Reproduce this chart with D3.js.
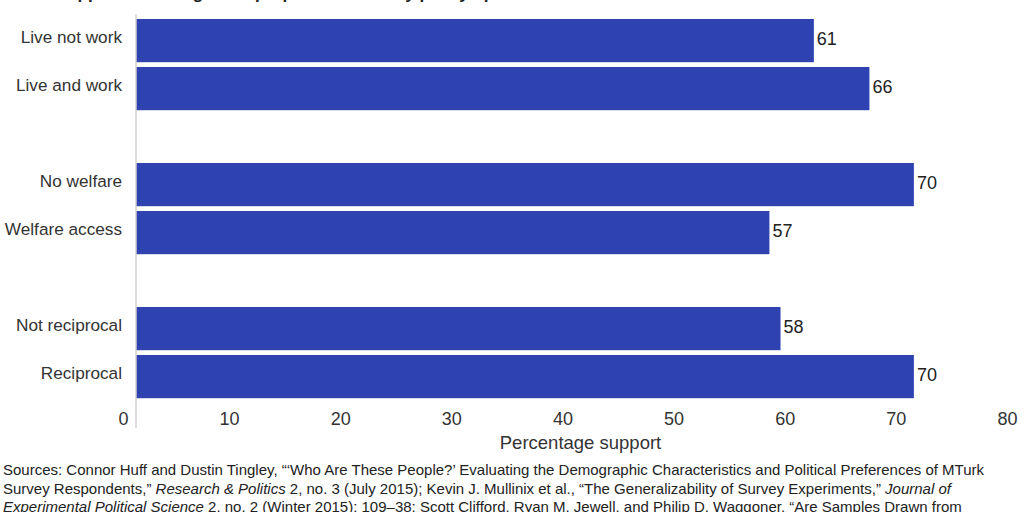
<!DOCTYPE html>
<html>
<head>
<meta charset="utf-8">
<script src="https://cdn.jsdelivr.net/npm/d3@7"></script>
<style>
  html, body { margin: 0; padding: 0; background: #fff; }
  svg { display: block; }
</style>
</head>
<body>
<svg id="chart" width="1024" height="512"></svg>
<script>
// ---- data ----
const categories = ["Live not work", "Live and work", "No welfare", "Welfare access", "Not reciprocal", "Reciprocal"];
const values = [61, 66, 70, 57, 58, 70];
const rowOrder = ["Live not work", "Live and work", "gap1", "No welfare", "Welfare access", "gap2", "Not reciprocal", "Reciprocal"];
const xTicks = [0, 10, 20, 30, 40, 50, 60, 70, 80];
const xTitle = "Percentage support";
const title = "Public support for immigration proposals varies by policy options";
const sourceLines = [
  [{t: "Sources: Connor Huff and Dustin Tingley, \u201c\u2018Who Are These People?\u2019 Evaluating the Demographic Characteristics and Political Preferences of MTurk"}],
  [{t: "Survey Respondents,\u201d "}, {t: "Research & Politics", i: true}, {t: " 2, no. 3 (July 2015); Kevin J. Mullinix et al., \u201cThe Generalizability of Survey Experiments,\u201d "}, {t: "Journal of", i: true}],
  [{t: "Experimental Political Science", i: true}, {t: " 2, no. 2 (Winter 2015): 109\u201338; Scott Clifford, Ryan M. Jewell, and Philip D. Waggoner, \u201cAre Samples Drawn from"}]
];

const data = categories.map((c, i) => ({cat: c, v: values[i]}));

// ---- layout ----
const svg = d3.select("#chart");
const font = "'Liberation Sans', Arial, sans-serif";

const x = d3.scaleLinear().domain([0, 80]).range([136, 1025]);
const y = d3.scaleBand().domain(rowOrder).range([16.6, 400.6]).paddingInner(0.1).paddingOuter(0.05);

// title (mostly cut off at top)
svg.append("text")
  .attr("x", 2).attr("y", -1.5)
  .attr("font-family", font).attr("font-weight", "bold").attr("font-size", 17)
  .attr("fill", "#222")
  .text(title);

// bars
svg.append("g").selectAll("rect").data(data).join("rect")
  .attr("x", x(0))
  .attr("y", d => y(d.cat))
  .attr("width", d => x(d.v) - x(0))
  .attr("height", y.bandwidth())
  .attr("fill", "#2e43b1");

// vertical axis line
svg.append("line")
  .attr("x1", x(0)).attr("x2", x(0))
  .attr("y1", 14).attr("y2", 428)
  .attr("stroke", "#d0d0d0").attr("stroke-width", 1.5);

// category labels via y axis
const yAxis = svg.append("g")
  .attr("transform", `translate(${x(0)},0)`)
  .call(d3.axisLeft(y).tickSize(0).tickPadding(14).tickFormat(d => d.startsWith("gap") ? "" : d));
yAxis.select(".domain").remove();
yAxis.selectAll("text")
  .attr("dy", "0.14em")
  .attr("font-family", font).attr("font-size", 17.2).attr("fill", "#333");

// value labels
svg.append("g").selectAll("text").data(data).join("text")
  .attr("x", d => x(d.v) + 3)
  .attr("y", d => y(d.cat) + y.bandwidth() / 2)
  .attr("dy", "0.27em")
  .attr("font-family", font).attr("font-size", 18).attr("fill", "#222")
  .text(d => d.v);

// x axis tick labels
const xAxis = svg.append("g")
  .attr("transform", "translate(0,418)")
  .call(d3.axisBottom(x).tickValues(xTicks).tickSize(0).tickPadding(0));
xAxis.select(".domain").remove();
xAxis.selectAll("text")
  .attr("text-anchor", "end")
  .attr("dx", -8)
  .attr("dy", "0.38em")
  .attr("y", 0)
  .attr("font-family", font).attr("font-size", 18).attr("fill", "#333");

// x axis title
svg.append("text")
  .attr("x", (x.range()[0] + x.range()[1]) / 2)
  .attr("y", 449)
  .attr("text-anchor", "middle")
  .attr("font-family", font).attr("font-size", 18.5).attr("fill", "#333")
  .text(xTitle);

// sources
const src = svg.append("g");
sourceLines.forEach((line, li) => {
  const t = src.append("text")
    .attr("x", 3).attr("y", 475 + li * 18.5)
    .attr("font-family", font).attr("font-size", 15).attr("fill", "#222");
  line.forEach(seg => {
    t.append("tspan").attr("font-style", seg.i ? "italic" : null).text(seg.t);
  });
});
</script>
</body>
</html>
